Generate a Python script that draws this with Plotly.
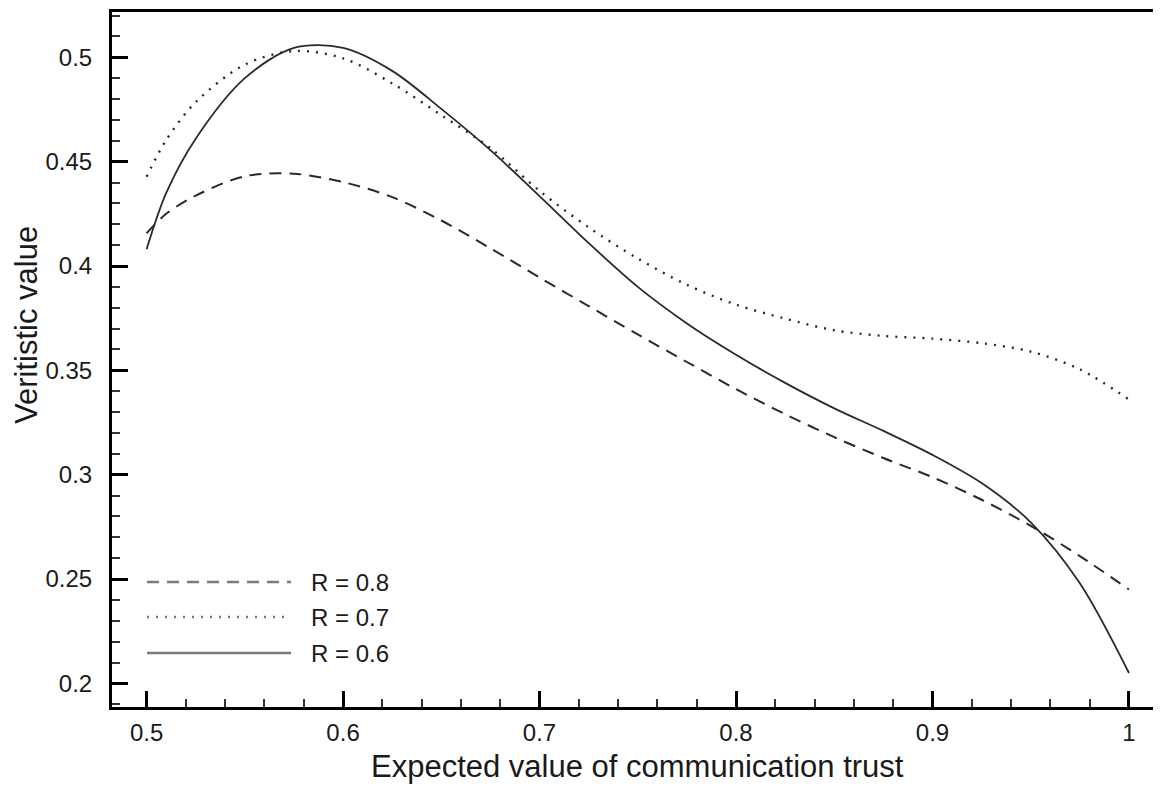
import plotly.graph_objects as go

# ---- data ----
trust = [0.50, 0.51, 0.525, 0.55, 0.575, 0.60, 0.625, 0.65, 0.675, 0.70, 0.725,
         0.75, 0.775, 0.80, 0.825, 0.85, 0.875, 0.90, 0.925, 0.95, 0.975, 1.00]

r08 = [0.4157, 0.4250, 0.4337, 0.4430, 0.4442, 0.4402, 0.4330, 0.4218, 0.4085, 0.3945, 0.3808,
       0.3672, 0.3540, 0.3410, 0.3290, 0.3180, 0.3080, 0.2988, 0.2880, 0.2755, 0.2610, 0.2450]

r07 = [0.4428, 0.4604, 0.4785, 0.4965, 0.5030, 0.4995, 0.4875, 0.4723, 0.4565, 0.4360, 0.4185,
       0.4036, 0.3910, 0.3815, 0.3748, 0.3692, 0.3665, 0.3652, 0.3630, 0.3590, 0.3505, 0.3360]

r06 = [0.4080, 0.4350, 0.4610, 0.4900, 0.5045, 0.5045, 0.4935, 0.4753, 0.4555, 0.4335, 0.4110,
       0.3900, 0.3725, 0.3575, 0.3440, 0.3318, 0.3210, 0.3095, 0.2960, 0.2772, 0.2480, 0.2050]

series_names = ["R = 0.8", "R = 0.7", "R = 0.6"]
x_ticks = [0.5, 0.6, 0.7, 0.8, 0.9, 1.0]
x_tick_labels = ["0.5", "0.6", "0.7", "0.8", "0.9", "1"]
y_ticks = [0.2, 0.25, 0.3, 0.35, 0.4, 0.45, 0.5]
y_tick_labels = ["0.2", "0.25", "0.3", "0.35", "0.4", "0.45", "0.5"]

FONT = "Liberation Sans, Arial, Helvetica, sans-serif"
CURVE = "#2a2a2a"
LEG = "#7a7a7a"
dashes = ["12px,8px", "2px,7px", "solid"]
widths = [2.0, 2.4, 1.8]

fig = go.Figure()
for name, ys, d, w in zip(series_names, [r08, r07, r06], dashes, widths):
    fig.add_trace(go.Scatter(x=trust, y=ys, mode="lines", name=name,
                             line=dict(color=CURVE, width=w, dash=d, shape="spline",
                                       smoothing=0.9),
                             showlegend=False))

# page offset (the page body has an 8px margin), figure-size and margins
OFF = 8
W, H = 1161 - OFF, 786 - OFF
L, T = 112 - OFF, 12 - OFF
B = H - (707 - OFF)
pw, ph = W - L, H - T - B
def px(x):           # page pixel -> paper x
    return (x - OFF - L) / pw
def py(y):           # page pixel -> paper y
    return (H - B - (y - OFF)) / ph

leg_y = [582, 617, 653]
for name, d, yy in zip(series_names, dashes, leg_y):
    fig.add_shape(type="line", xref="paper", yref="paper",
                  x0=px(147), x1=px(291), y0=py(yy), y1=py(yy),
                  line=dict(color=LEG, width=2.4 if d != "2px,7px" else 2.6, dash=d))
    fig.add_annotation(xref="paper", yref="paper", x=px(309), y=py(yy),
                       text=name, showarrow=False, xanchor="left", yanchor="middle",
                       font=dict(family=FONT, size=24, color="#1a1a1a"))

# axis titles as annotations (exact placement)
fig.add_annotation(xref="paper", yref="paper", x=px(637), y=py(786),
                   text="Expected value of communication trust", showarrow=False,
                   xanchor="center", yanchor="bottom",
                   font=dict(family=FONT, size=31, color="#1a1a1a"))
fig.add_annotation(xref="paper", yref="paper", x=px(26), y=py(325),
                   text="Veritistic value", showarrow=False, textangle=-90,
                   xanchor="center", yanchor="middle",
                   font=dict(family=FONT, size=31, color="#1a1a1a"))

fig.update_layout(
    width=W, height=H,
    margin=dict(l=L, r=0, t=T, b=B, autoexpand=False),
    paper_bgcolor="white", plot_bgcolor="white",
    font=dict(family=FONT, size=24, color="#1a1a1a"),
)
fig.update_xaxes(
    range=[0.4824, 1.0163], showgrid=False, zeroline=False, automargin=False,
    showline=True, linecolor="black", linewidth=3, mirror=True,
    ticks="inside", ticklen=16, tickwidth=2.5, tickcolor="black",
    tickvals=x_ticks, ticktext=x_tick_labels,
    minor=dict(ticks="inside", ticklen=8, tickwidth=2, tickcolor="#333",
               dtick=0.02, tick0=0.5, showgrid=False),
    ticklabelstandoff=2,
)
fig.update_yaxes(
    range=[0.1887, 0.5217], showgrid=False, zeroline=False, automargin=False,
    showline=True, linecolor="black", linewidth=3,
    ticks="inside", ticklen=16, tickwidth=2.5, tickcolor="black",
    tickvals=y_ticks, ticktext=y_tick_labels,
    minor=dict(ticks="inside", ticklen=8, tickwidth=2, tickcolor="#333",
               dtick=0.01, tick0=0.2, showgrid=False),
    ticklabelstandoff=12,
)

fig.write_html("out.html")
